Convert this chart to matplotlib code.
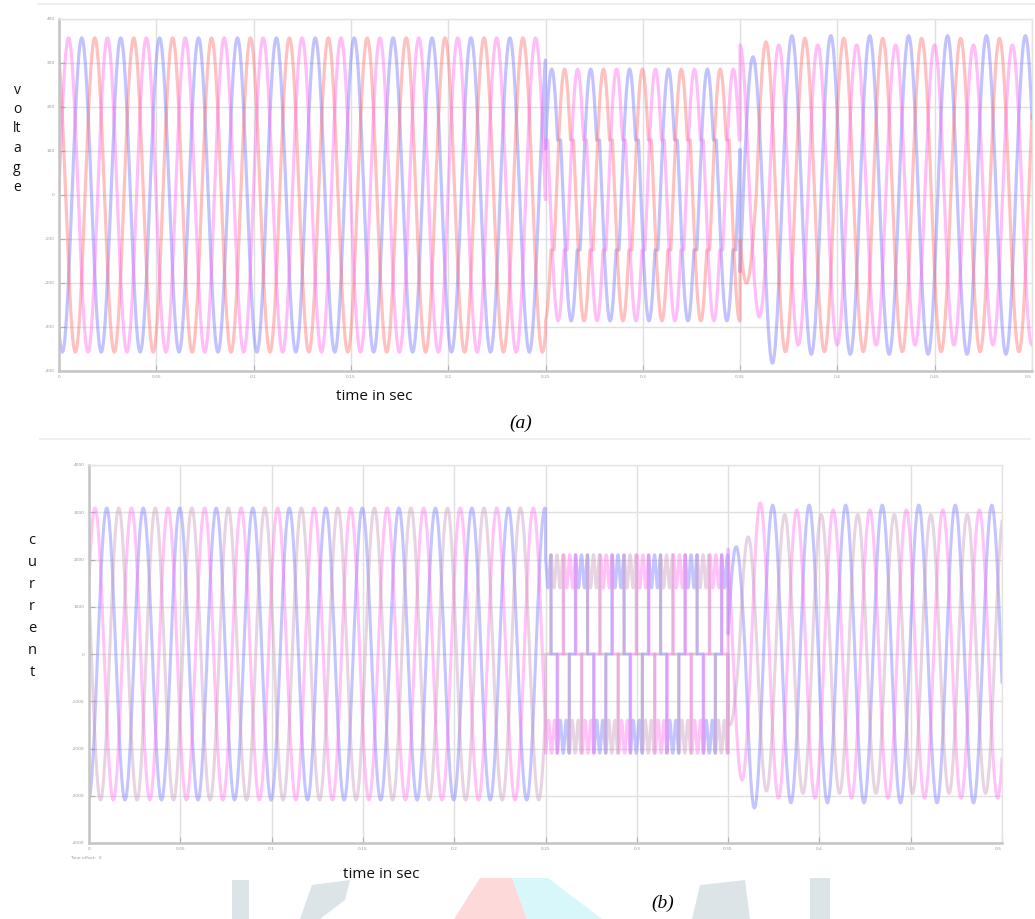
import numpy as np
import matplotlib
matplotlib.use("Agg")
import matplotlib.pyplot as plt
from matplotlib.patches import Polygon
from matplotlib.lines import Line2D

# ---------------- data ----------------
freq_hz = 50.0
t_sag_start = 0.25
t_sag_end = 0.35
t_end = 0.5

x_ticks = [0, 0.05, 0.1, 0.15, 0.2, 0.25, 0.3, 0.35, 0.4, 0.45, 0.5]
x_tick_labels = ["0", "0.05", "0.1", "0.15", "0.2", "0.25", "0.3", "0.35", "0.4", "0.45", "0.5"]

# panel (a): three-phase voltage (blue, red, magenta)
v_colors = ["#6f6fff", "#ff6a6a", "#ff66ec"]
v_peak_pre = [357, 357, 357]
v_peak_time_pre = [0.0117, 0.0184, 0.0049]
v_peak_sag = [286, 286, 286]
v_shelf_sag = [125, 125, 125]
v_peak_time_sag = [0.0132, 0.0198, 0.0065]
v_peak_post = [362, 356, 341]
v_peak_time_post = [0.0166, 0.0033, 0.0099]
v_first_extrema_post = [[314, 382], [200, 348], [277]]
v_yticks = [-400, -300, -200, -100, 0, 100, 200, 300, 400]
v_ylabel_letters = ["v", "o", "lt", "a", "g", "e"]

# panel (b): three-phase current (blue, pink, mauve)
i_colors = ["#7474ff", "#ff70f0", "#c898b8"]
i_peak_pre = [3090, 3090, 3090]
i_peak_time_pre = [0.0097, 0.0033, 0.0163]
i_level_sag_max = [2100, 2100, 2100]
i_level_sag_min = [1400, 1400, 1400]
i_peak_post = [3150, 3050, 2950]
i_peak_time_post = [0.0144, 0.0076, 0.0010]
i_first_extrema_post = [[2270, 3260], [2670, 3200], [1500, 2480, 2900]]
i_yticks = [-4000, -3000, -2000, -1000, 0, 1000, 2000, 3000, 4000]
i_ylabel_letters = ["c", "u", "r", "r", "e", "n", "t"]

xlabel_text = "time in sec"
panel_labels = ["(a)", "(b)"]
offset_text = "Time offset:  0"

# ---------------- waveform helpers ----------------
t = np.linspace(0.0, t_end, 60001)
w = 2 * np.pi * freq_hz


def sine_post(tt, tp, amp, first, t0):
    k = np.round((tt - tp) * 2 * freq_hz)
    k0 = np.ceil((t0 - tp) * 2 * freq_hz)
    a = np.full_like(tt, float(amp))
    for j, val in enumerate(first):
        a[k == k0 + j] = val
    return a * np.cos(w * (tt - tp))


def shelf_wave(tt, tp, amp, shelf, pause_frac=0.08):
    P = pause_frac * 2 * np.pi / (1 - 2 * pause_frac)
    total = 2 * np.pi + 2 * P
    tau = (((tt - tp) * freq_hz) % 1.0) * total
    ths = np.arccos(shelf / amp)
    th = np.where(tau < ths, tau,
         np.where(tau < ths + P, ths,
         np.where(tau < np.pi + ths + P, tau - P,
         np.where(tau < np.pi + ths + 2 * P, np.pi + ths, tau - 2 * P))))
    return amp * np.cos(th)


def six_step(tt, tp, imax, imin):
    th = (w * (tt - tp) + np.pi) % (2 * np.pi) - np.pi
    lvl = (imax + imin) / 2 + (imax - imin) / 2 * np.cos(6 * th)
    return np.where(np.abs(th) < np.pi / 3, lvl,
           np.where(np.abs(th) > 2 * np.pi / 3, -lvl, 0.0))


# ---------------- figure ----------------
W, H = 1035, 919
fig = plt.figure(figsize=(W / 100, H / 100), dpi=100)


def fx(px):
    return px / W


def fy(py):
    return 1 - py / H


def style_axes(ax, yticks, ylim):
    ax.set_xlim(0, t_end)
    ax.set_ylim(*ylim)
    ax.set_xticks(x_ticks)
    ax.set_xticklabels(x_tick_labels)
    ax.set_yticks(yticks)
    ax.set_yticklabels([str(v) for v in yticks])
    ax.tick_params(labelsize=3.2, labelcolor="#9a9a9a", colors="#b0b0b0",
                   direction="in", length=4, width=0.8, pad=3)
    ax.get_xticklabels()[-1].set_horizontalalignment("right")
    ax.grid(True, color="#e0e0e0", lw=1.0)
    ax.set_axisbelow(True)
    for s in ["top", "right"]:
        ax.spines[s].set_color("#e4e4e4")
        ax.spines[s].set_linewidth(1.0)
    for s in ["left", "bottom"]:
        ax.spines[s].set_color("#c4c4c4")
        ax.spines[s].set_linewidth(1.8)


# panel (a)
axa = fig.add_axes([fx(59), fy(371), fx(1032 - 59), (371 - 19) / H])
style_axes(axa, v_yticks, (-400, 400))
for c, a0, tp0, a1, s1, tp1, a2, tp2, first in zip(
        v_colors, v_peak_pre, v_peak_time_pre, v_peak_sag, v_shelf_sag,
        v_peak_time_sag, v_peak_post, v_peak_time_post, v_first_extrema_post):
    pre = a0 * np.cos(w * (t - tp0))
    sag = shelf_wave(t, tp1, a1, s1)
    post = sine_post(t, tp2, a2, first, t_sag_end)
    v = np.where(t < t_sag_start, pre, np.where(t < t_sag_end, sag, post))
    axa.plot(t, v, color=c, lw=2.3, alpha=0.42, solid_joinstyle="round")

# panel (b)
axb = fig.add_axes([fx(89), fy(843), fx(1002 - 89), (843 - 465) / H])
style_axes(axb, i_yticks, (-4000, 4000))
for c, a0, tp0, imax, imin, a2, tp2, first in zip(
        i_colors, i_peak_pre, i_peak_time_pre, i_level_sag_max, i_level_sag_min,
        i_peak_post, i_peak_time_post, i_first_extrema_post):
    pre = a0 * np.cos(w * (t - tp0))
    sag = six_step(t, tp0, imax, imin)
    post = sine_post(t, tp2, a2, first, t_sag_end)
    i = np.where(t < t_sag_start, pre, np.where(t < t_sag_end, sag, post))
    axb.plot(t, i, color=c, lw=2.2, alpha=0.42, solid_joinstyle="round")

# ---------------- texts ----------------
txt_font = ["Open Sans", "DejaVu Sans"]
for k, letter in enumerate(v_ylabel_letters):
    fig.text(fx(17), fy(90 + k * 19.5), letter, ha="center", va="center",
             fontsize=10, family=txt_font, color="#111111")
for k, letter in enumerate(i_ylabel_letters):
    fig.text(fx(32), fy(541 + k * 22), letter, ha="center", va="center",
             fontsize=10.5, family=txt_font, color="#111111")

fig.text(fx(374), fy(397), xlabel_text, ha="center", va="center",
         fontsize=11, family=txt_font, color="#111111")
fig.text(fx(381), fy(874), xlabel_text, ha="center", va="center",
         fontsize=11, family=txt_font, color="#111111")
fig.text(fx(521), fy(423), panel_labels[0], ha="center", va="center",
         fontsize=14, family=["Liberation Serif", "DejaVu Serif"], style="italic")
fig.text(fx(663), fy(903), panel_labels[1], ha="center", va="center",
         fontsize=14, family=["Liberation Serif", "DejaVu Serif"], style="italic")
fig.text(fx(70), fy(858), offset_text, ha="left", va="center",
         fontsize=3.2, color="#9a9a9a")

# faint separator lines
fig.add_artist(Line2D([fx(38), fx(1035)], [fy(4), fy(4)], color="#ececec", lw=1.2))
fig.add_artist(Line2D([fx(40), fx(1030)], [fy(439), fy(439)], color="#ececec", lw=1.2))

# watermark shapes at bottom
def poly(points, color):
    fig.add_artist(Polygon([(fx(x), fy(y)) for x, y in points], closed=True,
                           facecolor=color, edgecolor="none", zorder=0))

poly([(232, 919), (232, 880), (249, 880), (249, 919)], "#dde4e8")
poly([(300, 919), (312, 885), (350, 880), (345, 900), (320, 919)], "#dde4e8")
poly([(454, 919), (480, 878), (512, 878), (527, 919)], "#fdd9da")
poly([(527, 919), (512, 878), (548, 878), (602, 919)], "#d8f7fa")
poly([(692, 919), (700, 885), (745, 880), (750, 919)], "#dde4e8")
poly([(810, 919), (810, 878), (830, 878), (830, 919)], "#dde4e8")

fig.savefig("out.png", dpi=100)
